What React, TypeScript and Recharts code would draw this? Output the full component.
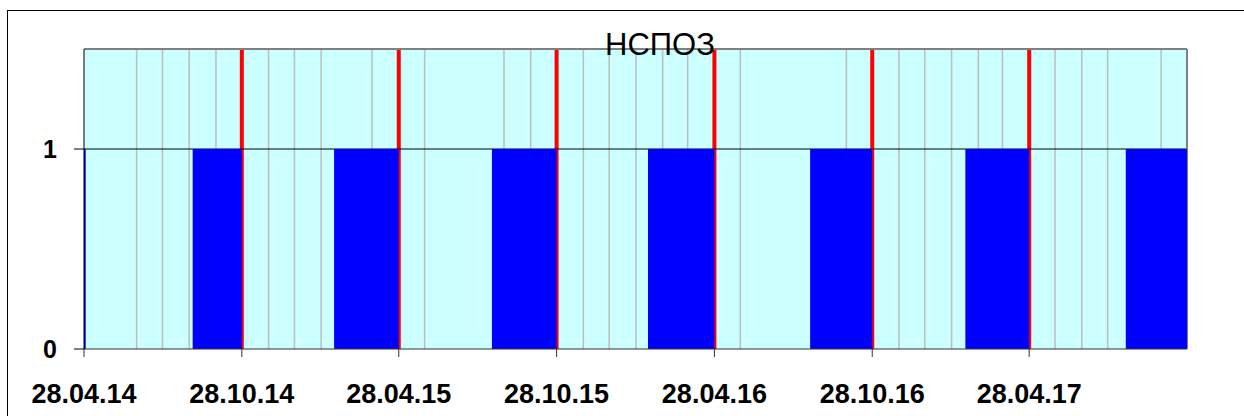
import React from "react";
import { ComposedChart, Area, XAxis, YAxis, CartesianGrid } from "recharts";

// date range of the chart
const rangeStart = "2014-04-28";
const rangeEnd = "2017-10-28";

// labelled ticks (every 6 months)
const tickDates = ["2014-04-28", "2014-10-28", "2015-04-28", "2015-10-28", "2016-04-28", "2016-10-28", "2017-04-28"];
// red marker lines
const markDates = ["2014-10-28", "2015-04-28", "2015-10-28", "2016-04-28", "2016-10-28", "2017-04-28"];
// light grey vertical gridlines
const gridDates = [
  "2014-06-28", "2014-07-28", "2014-08-28", "2014-09-28", "2014-11-28", "2014-12-28",
  "2015-01-28", "2015-03-28", "2015-05-28", "2015-08-28", "2015-09-28", "2015-11-28",
  "2015-12-28", "2016-01-28", "2016-02-28", "2016-03-28", "2016-05-28", "2016-09-28",
  "2016-11-28", "2016-12-28", "2017-01-28", "2017-02-28", "2017-03-28", "2017-05-28",
  "2017-06-28", "2017-07-28", "2017-09-28",
];
// periods where the signal is 1
const onDates = ["2014-04-28", "2014-09-01", "2015-02-12", "2015-08-14", "2016-02-11", "2016-08-17", "2017-02-13", "2017-08-18"];
const offDates = ["2014-04-30", "2014-10-28", "2015-04-28", "2015-10-28", "2016-04-28", "2016-10-28", "2017-04-28", "2017-10-28"];
const yTicks = [0, 1];
const yMax = 1.5;

const toT = (s: string) => Date.parse(s + "T00:00:00Z");
const pad = (n: number) => (n < 10 ? "0" + n : "" + n);
const fmt = (t: number) => {
  const d = new Date(t);
  return `${pad(d.getUTCDate())}.${pad(d.getUTCMonth() + 1)}.${pad(d.getUTCFullYear() % 100)}`;
};

const data = onDates.flatMap((d, i) => [
  { t: toT(d), v: 1 },
  { t: toT(offDates[i]), v: 0 },
]);

const domain: [number, number] = [toT(rangeStart), toT(rangeEnd)];
const FONT = '"Liberation Sans", Arial, sans-serif';

// map values to pixels through the axis scale handed to the grid
const xLines = (dates: string[]) => (props: any) => {
  const s = props?.xAxis?.scale;
  const off = props.offset;
  return dates.map((d) =>
    typeof s === "function"
      ? s(toT(d))
      : off.left + ((toT(d) - domain[0]) / (domain[1] - domain[0])) * off.width
  );
};
const yLines = (vals: number[]) => (props: any) => {
  const s = props?.yAxis?.scale;
  const off = props.offset;
  return vals.map((v) => (typeof s === "function" ? s(v) : off.top + (1 - v / yMax) * off.height));
};

export default function App() {
  return (
    <div style={{ position: "fixed", left: 0, top: 0, width: 1244, height: 416, overflow: "hidden", background: "#fff", fontFamily: FONT }}>
      <div style={{ position: "absolute", left: 7, top: 10, width: 1300, height: 500, border: "1px solid #000" }} />
      <ComposedChart width={1244} height={416} data={data} margin={{ top: 49, right: 57, left: 24, bottom: 0 }}>
        <XAxis
          dataKey="t"
          type="number"
          domain={domain}
          allowDataOverflow
          ticks={tickDates.map(toT)}
          interval={0}
          tickFormatter={fmt}
          height={67}
          tickSize={8}
          tickMargin={27}
          axisLine={{ stroke: "#333" }}
          tickLine={{ stroke: "#333" }}
          tick={{ fill: "#000", fontSize: 27, fontWeight: "bold", fontFamily: FONT }}
        />
        <YAxis
          type="number"
          domain={[0, yMax]}
          ticks={yTicks}
          interval={0}
          width={60}
          tickSize={10}
          tickMargin={17}
          axisLine={{ stroke: "#000" }}
          tickLine={{ stroke: "#000" }}
          tick={{ fill: "#000", fontSize: 25, fontWeight: "bold", fontFamily: FONT }}
        />
        <CartesianGrid horizontal={false} verticalCoordinatesGenerator={xLines(gridDates)} fill="#CCFFFF" fillOpacity={1} stroke="#BDBDBD" strokeWidth={1.5} />
        <CartesianGrid horizontal={false} verticalCoordinatesGenerator={xLines(markDates)} stroke="#FF0000" strokeWidth={4} />
        <CartesianGrid vertical={false} horizontalCoordinatesGenerator={yLines([1])} stroke="#000" strokeWidth={1} />
        <CartesianGrid
          verticalCoordinatesGenerator={xLines([rangeEnd])}
          horizontalCoordinatesGenerator={yLines([yMax])}
          stroke="#808080"
          strokeWidth={2}
        />
        <Area
          type="stepAfter"
          dataKey="v"
          stroke="none"
          fill="#0000FF"
          fillOpacity={1}
          isAnimationActive={false}
          dot={false}
          activeDot={false}
        />
      </ComposedChart>
      <div style={{ position: "absolute", left: 560, width: 200, top: 29, textAlign: "center", fontSize: 31, lineHeight: 1, color: "#000", fontFamily: FONT }}>
        НСПОЗ
      </div>
    </div>
  );
}
